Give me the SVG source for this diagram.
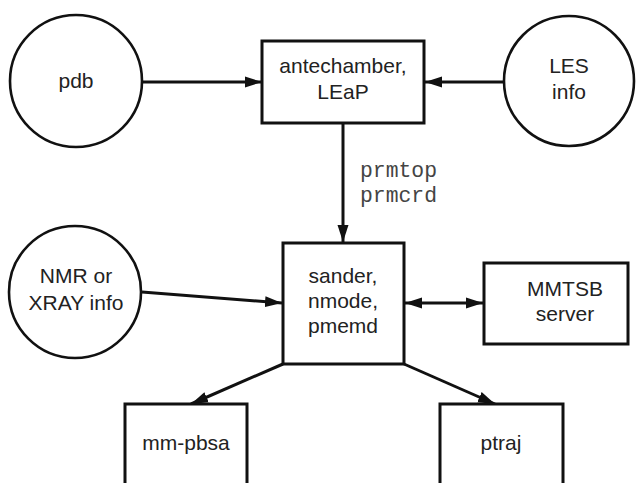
<svg xmlns="http://www.w3.org/2000/svg" width="637" height="483" viewBox="0 0 637 483">
<style>
.n{fill:#fff;stroke:#111;stroke-width:3}
.c{fill:#fff;stroke:#111;stroke-width:2.6}
.t{font-family:"Liberation Sans",Arial,sans-serif;font-size:21px;fill:#222;text-anchor:middle}
.m{font-family:"Liberation Mono","Courier New",monospace;font-size:21.4px;fill:#444}
.e{stroke:#111;stroke-width:3;fill:none}
</style>
<defs>
<marker id="ah" markerUnits="userSpaceOnUse" markerWidth="18" markerHeight="12" refX="17" refY="6" orient="auto">
<path d="M0,0.5 L17,6 L0,11.5 Z" fill="#111"/>
</marker>
<marker id="as" markerUnits="userSpaceOnUse" markerWidth="18" markerHeight="12" refX="0" refY="6" orient="auto">
<path d="M17,0.5 L0,6 L17,11.5 Z" fill="#111"/>
</marker>
</defs>
<rect width="637" height="483" fill="#fff"/>
<g id="connectors">
<line class="e" x1="142" y1="82" x2="262" y2="82" marker-end="url(#ah)"/>
<line class="e" x1="504" y1="82" x2="425" y2="82" marker-end="url(#ah)"/>
<line class="e" x1="343" y1="123" x2="343" y2="242" marker-end="url(#ah)"/>
<line class="e" x1="142" y1="292" x2="282" y2="303" marker-end="url(#ah)"/>
<line class="e" x1="405" y1="303" x2="483" y2="303" marker-start="url(#as)" marker-end="url(#ah)"/>
<line class="e" x1="283" y1="364" x2="191" y2="404" marker-end="url(#ah)"/>
<line class="e" x1="404" y1="364" x2="495" y2="404" marker-end="url(#ah)"/>
<text class="m" x="360" y="177">prmtop</text>
<text class="m" x="360" y="202">prmcrd</text>
</g>
<g id="pdb">
<circle class="c" cx="76" cy="81" r="66"/>
<text class="t" x="76" y="88">pdb</text>
</g>
<g id="antechamber">
<rect class="n" x="262" y="41" width="162" height="82"/>
<text class="t" x="343" y="73">antechamber,</text>
<text class="t" x="343" y="99">LEaP</text>
</g>
<g id="les">
<circle class="c" cx="569" cy="81" r="65"/>
<text class="t" x="569" y="73">LES</text>
<text class="t" x="569" y="99">info</text>
</g>
<g id="nmr">
<circle class="c" cx="75" cy="292" r="66"/>
<text class="t" x="76" y="283">NMR or</text>
<text class="t" x="76" y="310">XRAY info</text>
</g>
<g id="sander">
<rect class="n" x="283" y="243" width="121" height="121"/>
<text class="t" x="343" y="283">sander,</text>
<text class="t" x="343" y="308">nmode,</text>
<text class="t" x="343" y="333">pmemd</text>
</g>
<g id="mmtsb">
<rect class="n" x="484" y="263" width="144" height="81"/>
<text class="t" x="565" y="296">MMTSB</text>
<text class="t" x="565" y="321">server</text>
</g>
<g id="mmpbsa">
<rect class="n" x="125" y="404" width="122" height="90"/>
<text class="t" x="186" y="450">mm-pbsa</text>
</g>
<g id="ptraj">
<rect class="n" x="440" y="404" width="123" height="90"/>
<text class="t" x="501" y="450">ptraj</text>
</g>
</svg>
